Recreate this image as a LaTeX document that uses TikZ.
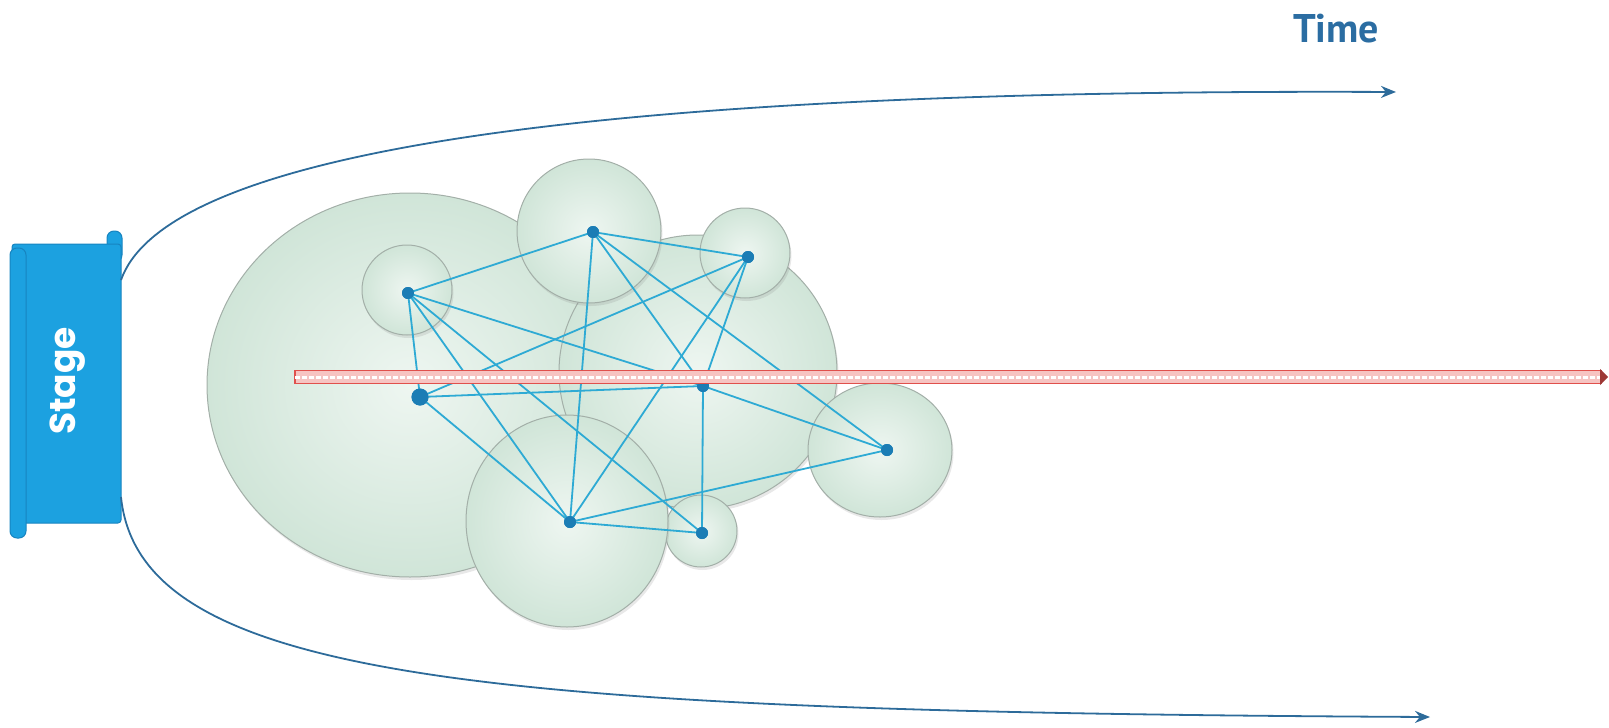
\documentclass[tikz,border=0pt]{standalone}
\usepackage{fontspec}
\newfontfamily\stagefont{Poppins}
\newfontfamily\timefont{PT Sans}
\usetikzlibrary{arrows.meta,shadows}
\definecolor{blobin}{HTML}{EEF6F1}
\definecolor{blobout}{HTML}{D0E5D8}
\definecolor{blobline}{HTML}{A3AFA8}
\definecolor{dotc}{HTML}{1B7DB5}
\definecolor{edgec}{HTML}{2EAAD4}
\definecolor{curvec}{HTML}{2D6B9A}
\definecolor{stagec}{HTML}{1CA1E0}
\definecolor{stageline}{HTML}{1784C0}
\definecolor{timec}{HTML}{2B6DA2}
\definecolor{barred}{HTML}{E0504C}
\definecolor{barpink}{HTML}{F6C4C2}
\begin{document}
\begin{tikzpicture}[x=1pt,y=-1pt,
  blob/.style={draw=blobline, line width=1pt, inner color=blobin, outer color=blobout,
    drop shadow={opacity=0.18, shadow xshift=1.5pt, shadow yshift=-3pt}},
  dot/.style={circle, fill=dotc, inner sep=0pt, minimum size=12pt},
  bigdot/.style={dot, minimum size=17pt},
  edge/.style={draw=edgec, line width=1.8pt},
  timeline/.style={draw=curvec, line width=1.8pt, -{Stealth[length=15pt,width=12pt]}},
  stagebox/.style={fill=stagec, draw=stageline, line width=1pt, rounded corners=3pt}]
\useasboundingbox (0,0) rectangle (1609,728);

% Stage scroll
\path[stagebox, rounded corners=7pt] (107,231) rectangle (122,262);
\path[stagebox] (12,244) rectangle (121,523);
\path[stagebox, rounded corners=7pt] (10,248) rectangle (26,538);
\node[rotate=90, text=white, font=\stagefont\bfseries\fontsize{36}{42}\selectfont] (stage) at (68,381) {Stage};
\coordinate (s1) at (121,280);
\coordinate (s2) at (121,497);

% Time curves
\coordinate (t1) at (1396,92);
\coordinate (t2) at (1430,717);
\draw[timeline] (s1) .. controls (160,170) and (480,88) .. (t1);
\draw[timeline] (s2) .. controls (140,680) and (480,712) .. (t2);
\node[text=timec, font=\timefont\bfseries\fontsize{40}{46}\selectfont] (time) at (1336,29) {Time};

% Blobs
\path[blob] (410,385) ellipse [x radius=203, y radius=192];
\path[blob] (698,372) ellipse [x radius=139, y radius=137];
\path[blob] (701,531) circle [radius=36];
\path[blob] (567,521) ellipse [x radius=101, y radius=106];
\path[blob] (880,450) ellipse [x radius=72, y radius=67];
\path[blob] (407,290) circle [radius=45];
\path[blob] (589,231) circle [radius=72];
\path[blob] (745,253) circle [radius=45];

% Graph nodes
\node[dot] (A) at (408,293) {};
\node[dot] (B) at (593,232) {};
\node[dot] (C) at (748,257) {};
\node[bigdot] (D) at (420,397) {};
\node[dot] (E) at (703,386) {};
\node[dot] (F) at (887,450) {};
\node[dot] (G) at (570,522) {};
\node[dot] (H) at (702,533) {};

\foreach \u/\v in {A/B,A/D,A/E,A/G,A/H,B/C,B/E,B/F,B/G,C/D,C/E,C/G,D/E,D/G,E/F,E/H,G/F,G/H}
  \draw[edge] (\u.center) -- (\v.center);
\foreach \n in {A,B,C,E,F,G,H}
  \fill[dotc] (\n) circle [radius=6];
\fill[dotc] (D) circle [radius=8.5];

% Red bar
\coordinate (r1) at (295,377);
\coordinate (r2) at (1601,377);
\fill[barpink] (295,370.5) rectangle (1601,383.5);
\draw[barred, line width=1.8pt] (295,370.5) rectangle (1601,383.5);
\draw[white, line width=3pt, dash pattern=on 5pt off 2pt] (r1) -- (r2);
\fill[barred!70!black] (1600,369) -- (1608,377) -- (1600,385) -- cycle;
\end{tikzpicture}
\end{document}
